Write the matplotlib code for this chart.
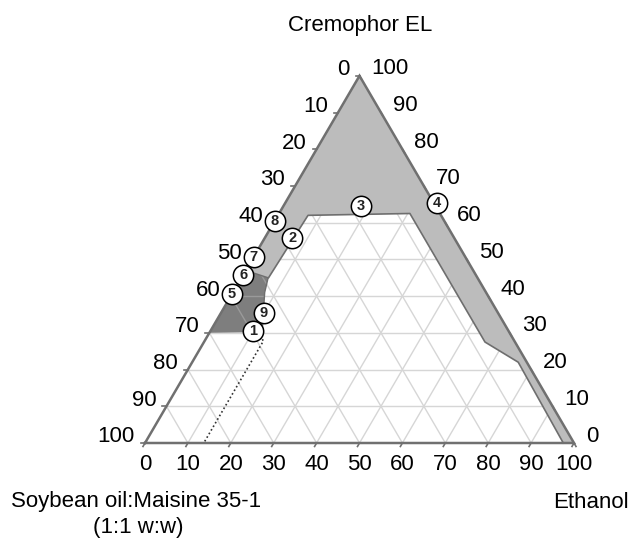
import numpy as np
import matplotlib
matplotlib.use('Agg')
import matplotlib.pyplot as plt
from matplotlib.patches import Polygon

plt.rcParams['font.family'] = ['Liberation Sans', 'DejaVu Sans']

# ternary data, given as (cremophor %, ethanol %); oil = 100 - both
ticks = [0, 10, 20, 30, 40, 50, 60, 70, 80, 90, 100]

light_cremophor = [100, 47, 45, 62, 62.5, 27.5, 22, 0, 0]
light_ethanol = [0, 0, 6.3, 7, 30.5, 65.5, 76, 97.5, 100]

dark_cremophor = [47, 45, 41, 30.2, 30]
dark_ethanol = [0, 6.2, 7.4, 12.2, 0]

dotted_cremophor = [29.2, 27.8, 0]
dotted_ethanol = [12.2, 13.7, 13.7]

point_labels = ['1', '2', '3', '4', '5', '6', '7', '8', '9']
point_cremophor = [30.5, 55.8, 64.5, 65.4, 40.6, 45.8, 50.7, 60.5, 35.4]
point_ethanol = [10, 6.4, 18, 35.4, 0, 0, 0, 0, 10]

H = np.sqrt(3) / 2


def tern(c, e):
    c = np.asarray(c, dtype=float)
    e = np.asarray(e, dtype=float)
    return e + c / 2, c * H


# figure 628x542; triangle base from px 145 to 574, baseline at px 443
fig = plt.figure(figsize=(6.28, 5.42), dpi=100)
ax = fig.add_axes([0, 0, 1, 1])
sx, sy = 4.29, 4.24
ax.set_xlim(-145 / sx, (628 - 145) / sx)
ax.set_ylim(-(542 - 443) / sy, 443 / sy)
ax.axis('off')

# grid
grid_lines = []
for v in ticks[1:-1]:
    segs = [tern([v, v], [0, 100 - v]),      # constant cremophor
            tern([0, 100 - v], [v, v]),      # constant ethanol
            tern([0, 100 - v], [100 - v, 0])]  # constant oil
    for xs, ys in segs:
        ax.plot(xs, ys, color='#d6d6d6', lw=1, zorder=1)
        grid_lines.append((xs, ys))

# shaded regions
lx, ly = tern(light_cremophor, light_ethanol)
ax.add_patch(Polygon(np.column_stack([lx, ly]), closed=True, fc='#bcbcbc', ec='none', zorder=2))
dx, dy = tern(dark_cremophor, dark_ethanol)
dark = Polygon(np.column_stack([dx, dy]), closed=True, fc='#7e7e7e', ec='none', zorder=2)
ax.add_patch(dark)
for xs, ys in grid_lines:
    ln, = ax.plot(xs, ys, color='#9a9a9a', lw=1, zorder=2.5)
    ln.set_clip_path(dark)

# edges of inner boundaries
ax.plot(lx[2:8], ly[2:8], color='#6e6e6e', lw=1.2, zorder=3)
ax.plot(dx[:4], dy[:4], color='#6e6e6e', lw=1.0, zorder=3)

# triangle outline
ox, oy = tern([0, 0, 100, 0], [0, 100, 0, 0])
ax.plot(ox, oy, color='#707070', lw=1.8, zorder=4, solid_joinstyle='miter')

# dotted line
px_, py_ = tern(dotted_cremophor, dotted_ethanol)
ax.plot(px_, py_, color='#333333', lw=1.2, ls=(0, (1, 1.5)), zorder=4)

# ticks and tick labels
tl = 4.0  # tick length in px
fs = 16
for v in ticks:
    # left side: oil values (0 at apex, 100 at bottom-left)
    x, y = tern(100 - v, 0)
    ax.plot([x, x - tl / sx], [y, y], color='#707070', lw=1.2, zorder=4)
    ax.annotate(str(v), (x, y), xytext=(-10, 6), textcoords='offset pixels',
                ha='right', va='center', fontsize=fs)
    # right side: cremophor values
    x, y = tern(v, 100 - v)
    ax.plot([x, x + 0.5 * tl / sx], [y, y - H * tl / sy], color='#707070', lw=1.2, zorder=4)
    ax.annotate(str(v), (x, y), xytext=(12, 7), textcoords='offset pixels',
                ha='left', va='center', fontsize=fs)
    # bottom: ethanol values
    x, y = tern(0, v)
    ax.plot([x, x - 0.5 * tl / sx], [y, y - H * tl / sy], color='#707070', lw=1.2, zorder=4)
    ax.annotate(str(v), (x, y), xytext=(0, -22), textcoords='offset pixels',
                ha='center', va='center', fontsize=fs)

# numbered formulation points
qx, qy = tern(point_cremophor, point_ethanol)
ax.scatter(qx, qy, s=215, facecolor='white', edgecolor='black', linewidth=1.1, zorder=6)
for lab, x, y in zip(point_labels, qx, qy):
    ax.text(x, y, lab, ha='center', va='center', fontsize=10.5, fontweight='bold',
            color='#222222', zorder=7)

# vertex labels (pixel positions, top-left origin)
def px(xp, yp):
    return (xp - 145) / sx, (443 - yp) / sy

ax.text(*px(360, 25), 'Cremophor EL', ha='center', va='center', fontsize=fs)
ax.text(*px(136, 502), 'Soybean oil:Maisine 35-1', ha='center', va='center', fontsize=fs)
ax.text(*px(138, 528), '(1:1 w:w)', ha='center', va='center', fontsize=fs)
ax.text(*px(553, 502), 'Ethanol', ha='left', va='center', fontsize=fs)

fig.savefig('out.png', dpi=100)
